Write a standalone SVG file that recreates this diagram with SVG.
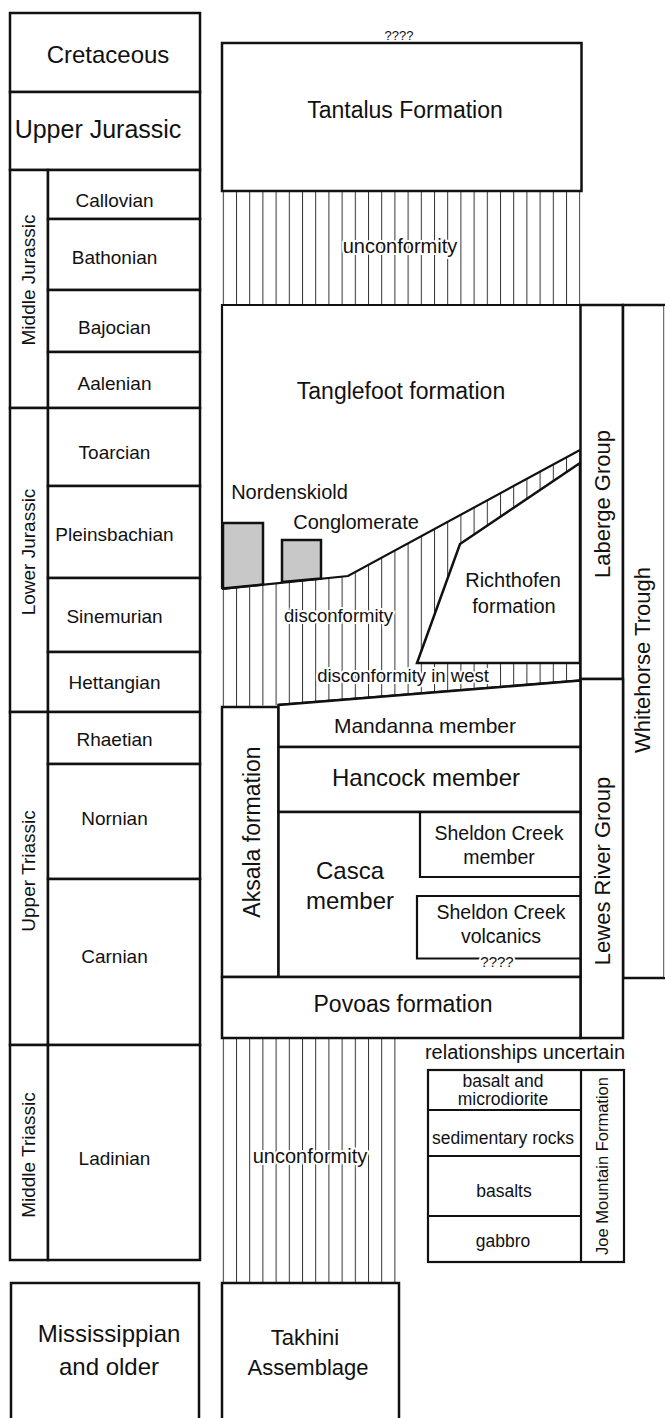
<svg xmlns="http://www.w3.org/2000/svg" width="665" height="1418" viewBox="0 0 665 1418">
<style>
text{font-family:"Liberation Sans",Arial,sans-serif;fill:#111;text-anchor:middle}
.box{fill:#fff;stroke:#111;stroke-width:2.5}
.thin{fill:none;stroke:#111;stroke-width:2.2}
.gray{fill:#c8c8c8;stroke:#111;stroke-width:2.5}
.halo{stroke:#fff;stroke-width:4;paint-order:stroke;stroke-linejoin:round}
.s19{font-size:19px}
</style>
<defs>
<pattern id="hatch" patternUnits="userSpaceOnUse" x="222.8" y="0" width="13.2" height="20">
<line x1="0.5" y1="0" x2="0.5" y2="20" stroke="#333" stroke-width="1"/>
</pattern>
</defs>

<g id="timescale">
<g id="cretaceous"><rect class="box" x="10" y="13" width="190" height="79"/><text x="108" y="63" font-size="24">Cretaceous</text></g>
<g id="upper-jurassic"><rect class="box" x="10" y="92" width="190" height="78"/><text x="98" y="138" font-size="25">Upper Jurassic</text></g>
<g id="middle-jurassic"><rect class="box" x="10" y="170" width="38" height="238"/><text class="s19" transform="translate(35,280) rotate(-90)">Middle Jurassic</text></g>
<g id="callovian"><rect class="box" x="48" y="170" width="152" height="49"/><text class="s19" x="114.5" y="207">Callovian</text></g>
<g id="bathonian"><rect class="box" x="48" y="219" width="152" height="71"/><text class="s19" x="114.5" y="264">Bathonian</text></g>
<g id="bajocian"><rect class="box" x="48" y="290" width="152" height="62"/><text class="s19" x="114.5" y="334">Bajocian</text></g>
<g id="aalenian"><rect class="box" x="48" y="352" width="152" height="56"/><text class="s19" x="114.5" y="390">Aalenian</text></g>
<g id="lower-jurassic"><rect class="box" x="10" y="408" width="38" height="304"/><text class="s19" transform="translate(35,552) rotate(-90)">Lower Jurassic</text></g>
<g id="toarcian"><rect class="box" x="48" y="408" width="152" height="78"/><text class="s19" x="114.5" y="459">Toarcian</text></g>
<g id="pleinsbachian"><rect class="box" x="48" y="486" width="152" height="92"/><text class="s19" x="114.5" y="541">Pleinsbachian</text></g>
<g id="sinemurian"><rect class="box" x="48" y="578" width="152" height="74"/><text class="s19" x="114.5" y="623">Sinemurian</text></g>
<g id="hettangian"><rect class="box" x="48" y="652" width="152" height="60"/><text class="s19" x="114.5" y="689">Hettangian</text></g>
<g id="upper-triassic"><rect class="box" x="10" y="712" width="38" height="333"/><text class="s19" transform="translate(35,871) rotate(-90)">Upper Triassic</text></g>
<g id="rhaetian"><rect class="box" x="48" y="712" width="152" height="52"/><text class="s19" x="114.5" y="746">Rhaetian</text></g>
<g id="nornian"><rect class="box" x="48" y="764" width="152" height="115"/><text class="s19" x="114.5" y="825">Nornian</text></g>
<g id="carnian"><rect class="box" x="48" y="879" width="152" height="166"/><text class="s19" x="114.5" y="963">Carnian</text></g>
<g id="middle-triassic"><rect class="box" x="10" y="1045" width="38" height="215"/><text class="s19" transform="translate(35,1155) rotate(-90)">Middle Triassic</text></g>
<g id="ladinian"><rect class="box" x="48" y="1045" width="152" height="215"/><text class="s19" x="114.5" y="1165">Ladinian</text></g>
<g id="mississippian"><rect class="box" x="11" y="1283" width="188" height="150"/><text x="109" y="1342" font-size="24">Mississippian</text><text x="109" y="1375" font-size="24">and older</text></g>
</g>

<g id="hatching">
<rect x="222" y="191" width="358.5" height="114" fill="url(#hatch)"/>
<polygon points="222,589 348,576 580,450 580,463 460,544 417,663 580,663 580,681 278,705 222,707" fill="url(#hatch)"/>
<rect x="222" y="1038" width="174" height="245" fill="url(#hatch)"/>
</g>

<g id="tantalus"><rect class="box" x="222" y="43" width="359.5" height="148"/><text x="405" y="118" font-size="23">Tantalus Formation</text><text x="399" y="40" font-size="13">????</text></g>

<g id="tanglefoot">
<path d="M222,589 L222,305 L580,305" class="thin" stroke-width="2.5"/>
<text x="401" y="399" font-size="23">Tanglefoot formation</text>
</g>

<g id="nordenskiold">
<polygon class="gray" points="223,523 263,523 263,584.5 223,588.5"/>
<polygon class="gray" points="282,540 321,540 321,578.5 282,582"/>
<text x="289.5" y="499" font-size="20">Nordenskiold</text>
<text x="356" y="529" font-size="20">Conglomerate</text>
</g>

<g id="richthofen">
<polygon points="580,463 460,544 417,663 580,663" fill="#fff" stroke="#111" stroke-width="2.5" stroke-linejoin="miter"/>
<text x="513" y="587" font-size="20">Richthofen</text>
<text x="514" y="613" font-size="20">formation</text>
</g>

<g id="boundaries">
<polyline points="222,589 348,576 580,450" class="thin" stroke-width="2.5"/>
<line x1="278" y1="705" x2="580" y2="680.5" stroke="#111" stroke-width="2.5"/>
</g>

<g id="laberge"><rect class="box" x="580.5" y="305" width="42.5" height="374"/><text transform="translate(610,504) rotate(-90)" font-size="22">Laberge Group</text></g>
<g id="whitehorse"><rect x="623" y="305" width="41.5" height="673" fill="#fff" stroke="#111" stroke-width="2.5"/><line x1="664.5" y1="306" x2="664.5" y2="977" stroke="#ddd" stroke-width="1.5"/><text transform="translate(650,660) rotate(-90)" font-size="22">Whitehorse Trough</text></g>
<g id="lewes"><rect class="box" x="580.5" y="679" width="42.5" height="359"/><text transform="translate(610,871) rotate(-90)" font-size="22">Lewes River Group</text></g>

<g id="aksala"><rect class="box" x="222" y="707" width="56.5" height="270"/><text transform="translate(260,832) rotate(-90)" font-size="23">Aksala formation</text></g>
<g id="mandanna"><path d="M278.5,705 L580.5,680.5 L580.5,747 L278.5,747 Z" class="box"/><text x="425" y="733" font-size="21">Mandanna member</text></g>
<g id="hancock"><rect class="box" x="278.5" y="747" width="302" height="65"/><text x="426" y="786" font-size="24">Hancock member</text></g>
<g id="casca"><rect class="box" x="278.5" y="812" width="302" height="165"/><text x="350" y="879" font-size="24">Casca</text><text x="350" y="909" font-size="24">member</text></g>
<g id="sheldon-member"><path d="M580.5,812 L420,812 L420,877 L580.5,877" class="thin" stroke-width="2.5"/><text x="499" y="840" font-size="19.5">Sheldon Creek</text><text x="499" y="864" font-size="19.5">member</text></g>
<g id="sheldon-volcanics"><path d="M580.5,896 L417,896 L417,958.5 L580.5,958.5" class="thin" stroke-width="2.5"/><text x="501" y="919" font-size="19.5">Sheldon Creek</text><text x="501" y="943" font-size="19.5">volcanics</text><text class="halo" x="497" y="967" font-size="15">????</text></g>
<g id="povoas"><rect class="box" x="222" y="977" width="358.5" height="61"/><text x="403" y="1012" font-size="23">Povoas formation</text></g>

<g id="takhini"><rect class="box" x="222" y="1283" width="177" height="150"/><text x="305" y="1345" font-size="22">Takhini</text><text x="308" y="1375" font-size="22">Assemblage</text></g>

<g id="joe-mountain">
<text x="525" y="1059" font-size="20">relationships uncertain</text>
<rect class="thin" x="428" y="1070" width="196" height="192"/>
<line x1="581" y1="1070" x2="581" y2="1262" stroke="#111" stroke-width="2.2"/>
<line x1="428" y1="1110" x2="581" y2="1110" stroke="#111" stroke-width="2.2"/>
<line x1="428" y1="1156" x2="581" y2="1156" stroke="#111" stroke-width="2.2"/>
<line x1="428" y1="1216" x2="581" y2="1216" stroke="#111" stroke-width="2.2"/>
<text x="503" y="1087" font-size="17.5">basalt and</text>
<text x="503" y="1105" font-size="17.5">microdiorite</text>
<text x="503" y="1144" font-size="17.5">sedimentary rocks</text>
<text x="504" y="1197" font-size="17.5">basalts</text>
<text x="503" y="1247" font-size="17.5">gabbro</text>
<text transform="translate(608,1166) rotate(-90)" font-size="16.5">Joe Mountain Formation</text>
</g>

<g id="labels">
<text class="halo" x="400" y="253" font-size="20">unconformity</text>
<text class="halo" x="338.5" y="622" font-size="18.5">disconformity</text>
<text class="halo" x="403" y="682" font-size="18.5">disconformity in west</text>
<text class="halo" x="310" y="1163" font-size="20">unconformity</text>
</g>
</svg>
